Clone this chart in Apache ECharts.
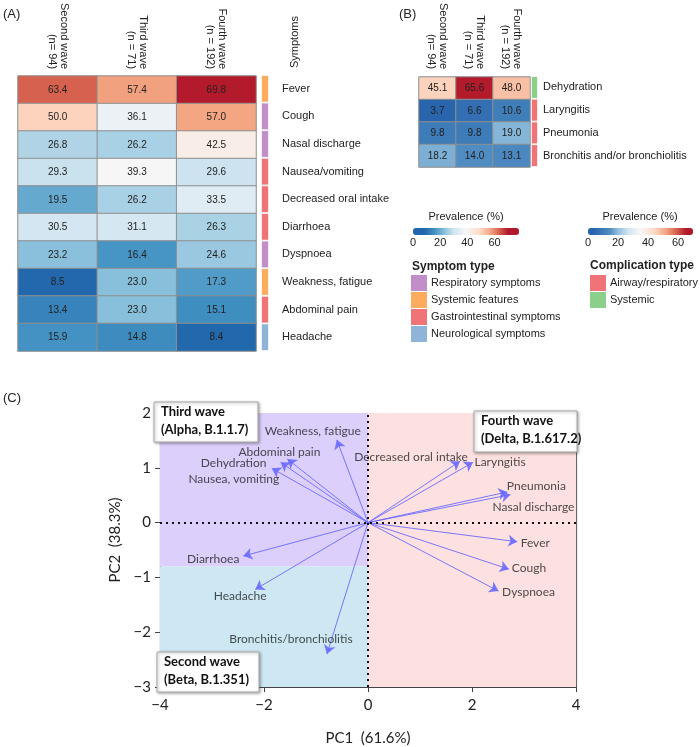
<!DOCTYPE html>
<html><head><meta charset="utf-8">
<script src="https://cdn.jsdelivr.net/npm/echarts@6/dist/echarts.min.js"></script>
<style>html,body{margin:0;padding:0;background:#fff}#c{width:700px;height:747px}</style>
</head><body><div id="c"></div>
<script>
// ---------- DATA ----------
const waveLabels = ['Second wave\n(n= 94)', 'Third wave\n(n = 71)', 'Fourth wave\n(n = 192)'];
const symptoms = ['Fever','Cough','Nasal discharge','Nausea/vomiting','Decreased oral intake','Diarrhoea','Dyspnoea','Weakness, fatigue','Abdominal pain','Headache'];
const symptomSecondWave = [63.4, 50.0, 26.8, 29.3, 19.5, 30.5, 23.2, 8.5, 13.4, 15.9];
const symptomThirdWave  = [57.4, 36.1, 26.2, 39.3, 26.2, 31.1, 16.4, 23.0, 23.0, 14.8];
const symptomFourthWave = [69.8, 57.0, 42.5, 29.6, 33.5, 26.3, 24.6, 17.3, 15.1, 8.4];
const symptomTypeOfRow = ['Systemic features','Respiratory symptoms','Respiratory symptoms','Gastrointestinal symptoms','Gastrointestinal symptoms','Gastrointestinal symptoms','Respiratory symptoms','Systemic features','Gastrointestinal symptoms','Neurological symptoms'];
const symptomTypes = ['Respiratory symptoms','Systemic features','Gastrointestinal symptoms','Neurological symptoms'];

const complications = ['Dehydration','Laryngitis','Pneumonia','Bronchitis and/or bronchiolitis'];
const complicationSecondWave = [45.1, 3.7, 9.8, 18.2];
const complicationThirdWave  = [65.6, 6.6, 9.8, 14.0];
const complicationFourthWave = [48.0, 10.6, 19.0, 13.1];
const complicationTypeOfRow = ['Systemic','Airway/respiratory','Airway/respiratory','Airway/respiratory'];
const complicationTypes = ['Airway/respiratory','Systemic'];

const legendTicks = [0, 20, 40, 60];

const pcaVariables = ['Weakness, fatigue','Abdominal pain','Dehydration','Nausea, vomiting','Decreased oral intake','Laryngitis','Pneumonia','Nasal discharge','Fever','Cough','Dyspnoea','Diarrhoea','Headache','Bronchitis/bronchiolitis'];
const pc1 = [-0.60, -1.55, -1.68, -1.85, 1.77, 2.02, 2.68, 2.74, 2.87, 2.71, 2.51, -2.40, -2.17, -0.79];
const pc2 = [ 1.51,  1.16,  1.10,  0.99, 1.12, 1.10, 0.56, 0.51, -0.35, -0.85, -1.25, -0.61, -1.22, -2.40];
const waveBoundaryPC2 = -0.8;
const waveBoxes = [['Third wave','(Alpha, B.1.1.7)'],['Fourth wave','(Delta, B.1.617.2)'],['Second wave','(Beta, B.1.351)']];

// ---------- STYLE ----------
const typeColors = {
  'Respiratory symptoms':'#c28ec8','Systemic features':'#fdac5e','Gastrointestinal symptoms':'#ef7377','Neurological symptoms':'#8fb4da',
  'Airway/respiratory':'#ef7377','Systemic':'#8ccf8a'
};
// label offsets (px) for PCA variable names, relative to arrow tips
const pcaLabelOffsets = [[-24,-9],[-8,-7],[-47,1],[-38,11],[-49,-4],[27,0],[29,-6],[23,12],[18,1],[20,-1],[30,1],[-30,3],[-15,7],[-36,-15]];

const stopsA = [[0,'#2166ac'],[8.4,'#2166ac'],[16,'#4393c3'],[24,'#92c5de'],[30,'#d1e5f0'],[39,'#f7f7f7'],[49,'#fddbc7'],[57,'#f4a582'],[63.5,'#d6604d'],[70,'#b2182b'],[78,'#b2182b']];
const stopsB = [[0,'#2166ac'],[4,'#2a65ad'],[12,'#4483bd'],[15,'#5590c4'],[20,'#92c0dc'],[27,'#d1e5f0'],[35,'#f7f7f7'],[44,'#fddbc7'],[52,'#f4a582'],[59,'#d6604d'],[65.6,'#b2182b'],[70,'#b2182b']];
function h2r(h){return [1,3,5].map(i=>parseInt(h.substr(i,2),16));}
function colAt(stops,v){
  for(let i=1;i<stops.length;i++){
    if(v<=stops[i][0]){const a=stops[i-1],b=stops[i];const t=(b[0]===a[0])?0:(v-a[0])/(b[0]-a[0]);
      const ca=h2r(a[1]),cb=h2r(b[1]);return 'rgb('+ca.map((c,k)=>Math.round(c+(cb[k]-c)*t)).join(',')+')';}
  }
  return stops[stops.length-1][1];
}
function sampleColors(stops,max,n){const out=[];for(let i=0;i<=n;i++)out.push(colAt(stops,max*i/n));return out;}

const FA = 'Liberation Sans, Arial, sans-serif';
const FC = 'Lato, sans-serif';

// ---------- BUILD ----------
const heatA = [];
[symptomSecondWave,symptomThirdWave,symptomFourthWave].forEach((arr,x)=>arr.forEach((v,y)=>heatA.push([x,y,v])));
const heatB = [];
[complicationSecondWave,complicationThirdWave,complicationFourthWave].forEach((arr,x)=>arr.forEach((v,y)=>heatB.push([x,y,v])));

const minus = v => String(v).replace('-', '\u2212');

const option = {
  animation:false,
  textStyle:{fontFamily:FA},
  grid:[
    {left:18, top:75, width:238, height:276},   //0 A heatmap
    {left:261, top:75, width:8, height:276},    //1 A strip
    {left:419, top:76, width:111, height:91},   //2 B heatmap
    {left:531, top:76, width:7, height:91},     //3 B strip
    {left:413, top:230, width:106, height:5},   //4 A legend axis
    {left:588, top:230, width:105, height:5},   //5 B legend axis
    {left:160, top:413, width:416, height:278}  //6 PCA
  ],
  xAxis:[
    {gridIndex:0,type:'category',data:waveLabels,position:'top',axisLine:{show:false},axisTick:{show:false},
      axisLabel:{rotate:90,margin:7,fontSize:11,lineHeight:12,color:'#222',fontFamily:FA}},
    {gridIndex:1,type:'value',min:0,max:1,show:false},
    {gridIndex:2,type:'category',data:waveLabels,position:'top',axisLine:{show:false},axisTick:{show:false},
      axisLabel:{rotate:90,margin:8,fontSize:11,lineHeight:12,color:'#222',fontFamily:FA}},
    {gridIndex:3,type:'value',min:0,max:1,show:false},
    {gridIndex:4,type:'value',min:0,max:78,interval:20,axisLine:{show:false},axisTick:{show:false},splitLine:{show:false},
      axisLabel:{margin:2,fontSize:11,color:'#222',showMaxLabel:false,fontFamily:FA}},
    {gridIndex:5,type:'value',min:0,max:70,interval:20,axisLine:{show:false},axisTick:{show:false},splitLine:{show:false},
      axisLabel:{margin:2,fontSize:11,color:'#222',showMaxLabel:false,fontFamily:FA}},
    {gridIndex:6,type:'value',min:-4,max:4,interval:2,position:'bottom',
      axisLine:{show:true,onZero:false,lineStyle:{color:'#444',width:1.2}},
      axisTick:{show:true,length:5,lineStyle:{color:'#444'}},splitLine:{show:false},
      axisLabel:{margin:11,fontSize:15,color:'#222',fontFamily:FC,formatter:minus},
      name:'PC1  (61.6%)',nameLocation:'middle',nameGap:44,nameTextStyle:{fontSize:15,color:'#222',fontFamily:FC}},
    {gridIndex:6,type:'value',min:-4,max:4,position:'top',axisLine:{show:true,onZero:false,lineStyle:{color:'#444',width:1.2}},
      axisTick:{show:false},axisLabel:{show:false},splitLine:{show:false}}
  ],
  yAxis:[
    {gridIndex:0,type:'category',data:symptoms,inverse:true,show:false},
    {gridIndex:1,type:'category',data:symptoms,inverse:true,position:'right',axisLine:{show:false},axisTick:{show:false},
      axisLabel:{margin:13,fontSize:11,color:'#222',fontFamily:FA}},
    {gridIndex:2,type:'category',data:complications,inverse:true,show:false},
    {gridIndex:3,type:'category',data:complications,inverse:true,position:'right',axisLine:{show:false},axisTick:{show:false},
      axisLabel:{margin:5,fontSize:11,color:'#222',fontFamily:FA}},
    {gridIndex:4,type:'value',show:false,min:0,max:1},
    {gridIndex:5,type:'value',show:false,min:0,max:1},
    {gridIndex:6,type:'value',min:-3,max:2,interval:1,position:'left',
      axisLine:{show:true,onZero:false,lineStyle:{color:'#444',width:1.2}},
      axisTick:{show:true,length:5,lineStyle:{color:'#444'}},splitLine:{show:false},
      axisLabel:{margin:9,fontSize:15,color:'#222',fontFamily:FC,formatter:minus},
      name:'PC2  (38.3%)',nameLocation:'middle',nameGap:34,nameTextStyle:{fontSize:15,color:'#222',fontFamily:FC,padding:[0,0,0,20]}},
    {gridIndex:6,type:'value',min:-3,max:2,position:'right',axisLine:{show:true,onZero:false,lineStyle:{color:'#666',width:1.2}},
      axisTick:{show:false},axisLabel:{show:false},splitLine:{show:false}}
  ],
  visualMap:[
    {type:'continuous',seriesIndex:0,min:0,max:78,calculable:false,orient:'horizontal',left:413,top:228,padding:0,
      itemWidth:7,itemHeight:106,inRange:{color:sampleColors(stopsA,78,78)},text:null,hoverLink:false},
    {type:'continuous',seriesIndex:2,min:0,max:70,calculable:false,orient:'horizontal',left:588,top:228,padding:0,
      itemWidth:7,itemHeight:105,inRange:{color:sampleColors(stopsB,70,70)},text:null,hoverLink:false}
  ],
  series:[
    {type:'heatmap',xAxisIndex:0,yAxisIndex:0,data:heatA,
      itemStyle:{borderColor:'#8f8f8f',borderWidth:1},
      label:{show:true,fontSize:10,color:'#222',fontFamily:FA,formatter:p=>p.value[2].toFixed(1)}},
    {type:'bar',xAxisIndex:1,yAxisIndex:1,barWidth:'100%',
      data:symptomTypeOfRow.map(t=>({value:1,itemStyle:{color:typeColors[t]}})),
      itemStyle:{borderColor:'#fff',borderWidth:0.8}},
    {type:'heatmap',xAxisIndex:2,yAxisIndex:2,data:heatB,
      itemStyle:{borderColor:'#8f8f8f',borderWidth:1},
      label:{show:true,fontSize:10,color:'#222',fontFamily:FA,formatter:p=>p.value[2].toFixed(1)}},
    {type:'bar',xAxisIndex:3,yAxisIndex:3,barWidth:'100%',
      data:complicationTypeOfRow.map(t=>({value:1,itemStyle:{color:typeColors[t]}})),
      itemStyle:{borderColor:'#fff',borderWidth:0.8}},
    {type:'line',xAxisIndex:6,yAxisIndex:6,data:[[0,0]],symbol:'none',z:1,silent:true,
      markArea:{silent:true,data:[
        [{coord:[-4,waveBoundaryPC2],itemStyle:{color:'#dccffb'}},{coord:[0,2]}],
        [{coord:[-4,-3],itemStyle:{color:'#cde8f3'}},{coord:[0,waveBoundaryPC2]}],
        [{coord:[0,-3],itemStyle:{color:'#fde0e0'}},{coord:[4,2]}]
      ]},
      markLine:{silent:true,symbol:'none',label:{show:false},lineStyle:{type:[2,4],color:'#111',width:2},
        data:[{xAxis:0},{yAxis:0}]}},
    {type:'lines',coordinateSystem:'cartesian2d',xAxisIndex:6,yAxisIndex:6,z:3,
      symbol:['none','arrow'],symbolSize:9,
      lineStyle:{color:'#6a6aff',width:1,opacity:0.9},itemStyle:{color:'#5858ff'},
      data:pc1.map((x,i)=>({coords:[[0,0],[x,pc2[i]]]}))},
    {type:'scatter',xAxisIndex:6,yAxisIndex:6,z:4,symbolSize:0,
      data:pc1.map((x,i)=>({value:[x,pc2[i]],name:pcaVariables[i],
        label:{show:true,position:'inside',offset:pcaLabelOffsets[i],formatter:'{b}',fontSize:12,color:'#222',fontFamily:FC}}))}
  ],
  graphic:[]
};

const G = option.graphic;
G.push({type:'text',left:3,top:8,style:{text:'(A)',fontSize:13,fill:'#222',fontFamily:FA}});
G.push({type:'text',left:399,top:8,style:{text:'(B)',fontSize:13,fill:'#222',fontFamily:FA}});
G.push({type:'text',left:3,top:392,style:{text:'(C)',fontSize:13,fill:'#222',fontFamily:FA}});
G.push({type:'text',x:295,y:68,rotation:Math.PI/2,style:{text:'Symptoms',fontSize:11,fill:'#222',fontFamily:FA,align:'left',verticalAlign:'middle'}});
G.push({type:'text',x:466,y:217,style:{text:'Prevalence (%)',fontSize:11,fill:'#222',fontFamily:FA,align:'center',verticalAlign:'middle'}});
G.push({type:'text',x:640,y:217,style:{text:'Prevalence (%)',fontSize:11,fill:'#222',fontFamily:FA,align:'center',verticalAlign:'middle'}});
G.push({type:'text',x:412,y:267,style:{text:'Symptom type',fontSize:12,fontWeight:'bold',fill:'#222',fontFamily:FA,align:'left',verticalAlign:'middle'}});
symptomTypes.forEach((t,i)=>{
  G.push({type:'rect',shape:{x:411,y:275+i*17,width:16,height:16},style:{fill:typeColors[t]}});
  G.push({type:'text',x:431,y:283+i*17,style:{text:t,fontSize:11,fill:'#222',fontFamily:FA,align:'left',verticalAlign:'middle'}});
});
G.push({type:'text',x:590,y:266,style:{text:'Complication type',fontSize:12,fontWeight:'bold',fill:'#222',fontFamily:FA,align:'left',verticalAlign:'middle'}});
complicationTypes.forEach((t,i)=>{
  G.push({type:'rect',shape:{x:590,y:275+i*17,width:16,height:16},style:{fill:typeColors[t]}});
  G.push({type:'text',x:610,y:283+i*17,style:{text:t,fontSize:11,fill:'#222',fontFamily:FA,align:'left',verticalAlign:'middle'}});
});
const boxPos = [[154,402,104,40],[474,411,103,41],[157,652,102,40]];
waveBoxes.forEach((b,i)=>{
  const p = boxPos[i];
  G.push({type:'rect',z:10,shape:{x:p[0],y:p[1],width:p[2],height:p[3]},
    style:{fill:'#fff',stroke:'#aaa',lineWidth:1,shadowBlur:3,shadowColor:'rgba(0,0,0,0.35)',shadowOffsetX:1,shadowOffsetY:1}});
  G.push({type:'text',z:11,x:p[0]+7,y:p[1]+10,style:{text:b[0],fontSize:13,fontWeight:'bold',fill:'#111',fontFamily:FC,align:'left',verticalAlign:'middle'}});
  G.push({type:'text',z:11,x:p[0]+7,y:p[1]+28,style:{text:b[1],fontSize:13,fontWeight:'bold',fill:'#111',fontFamily:FC,align:'left',verticalAlign:'middle'}});
});

const chart = echarts.init(document.getElementById('c'),null,{renderer:'canvas'});
chart.setOption(option);
</script></body></html>
